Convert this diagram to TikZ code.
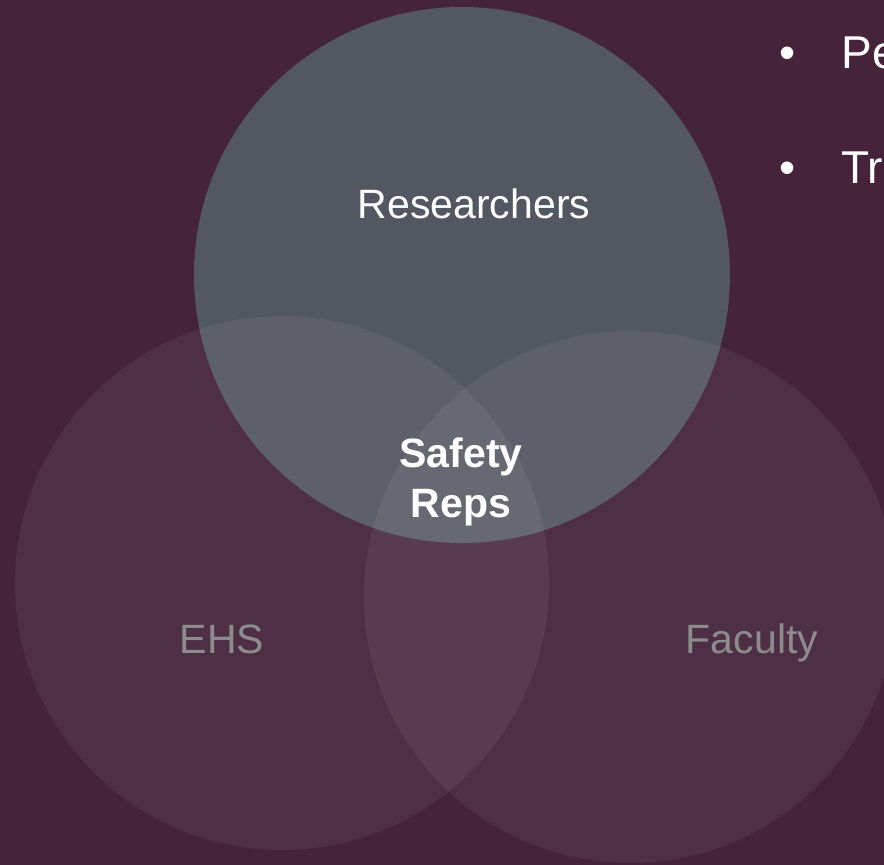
\documentclass[tikz,border=0pt]{standalone}
\usepackage{fontspec}
\setmainfont{Liberation Sans}
\definecolor{bgplum}{HTML}{45233A}
\definecolor{resgray}{HTML}{535761}
\definecolor{labelgray}{HTML}{8C8C8C}
\tikzset{
  venn/.style={fill=white,fill opacity=0.06},
  biglabel/.style={font=\fontsize{41}{50}\selectfont,anchor=base,align=center},
  bullettext/.style={font=\fontsize{46}{55}\selectfont,text=white,anchor=base west},
}
\begin{document}
\begin{tikzpicture}[x=1pt,y=-1pt]
  \fill[bgplum] (0,0) rectangle (884,865);
  \useasboundingbox (0,0) rectangle (884,865);
  %\draw (0,0) rectangle (884,865);
  \coordinate (R) at (462,275);
  \coordinate (E) at (282,583);
  \coordinate (F) at (630,597);
  \fill[resgray] (R) circle (268pt);
  \fill[venn] (E) circle (267pt);
  \fill[venn] (F) circle (266pt);
  \node [biglabel,text=white] (res) at (474,218) {Researchers};
  \node [biglabel,text=white,font=\fontsize{41}{50}\selectfont\bfseries] (reps) at (461,517) {Safety\\Reps};
  \node [biglabel,text=labelgray] (ehs) at (222,653) {EHS};
  \node [biglabel,text=labelgray] (fac) at (752,653) {Faculty};
  \node [bullettext,anchor=base] (b1) at (788,68) {•};
  \node [bullettext] (pe) at (838,68) {Pe};
  \node [bullettext,anchor=base] (b2) at (788,183) {•};
  \node [bullettext] (tr) at (838,183) {Tr};
\end{tikzpicture}
\end{document}
